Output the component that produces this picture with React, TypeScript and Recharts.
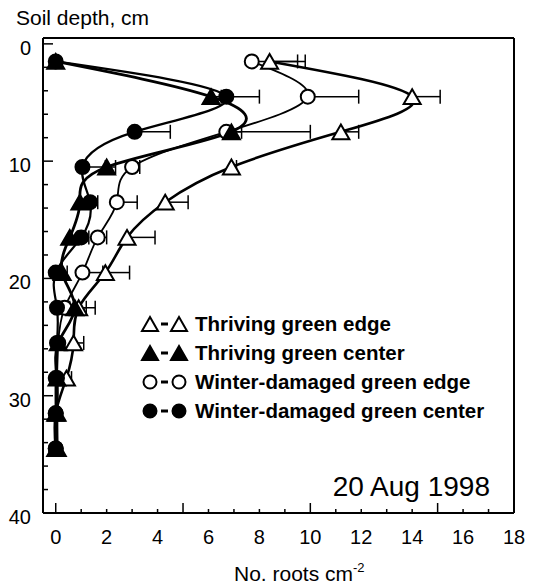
import { ComposedChart, Line, XAxis, YAxis, ErrorBar } from "recharts";

// soil depth (cm) of each sampling layer
const depths = [1.5, 4.5, 7.5, 10.5, 13.5, 16.5, 19.5, 22.5, 25.5, 28.5, 31.5, 34.5];

// no. roots per cm2
const thrivingEdge = [8.4, 14.0, 11.2, 6.9, 4.3, 2.8, 1.95, 0.9, 0.7, 0.42, 0, 0];
const thrivingEdgeErr = [1.4, 1.1, 0.7, 0.2, 0.9, 1.1, 0.95, 0.3, 0.4, 0.2, 0, 0];
const thrivingCenter = [0, 6.1, 6.9, 2.0, 0.95, 0.55, 0.25, 0.75, 0.1, 0.05, 0.05, 0.06];
const thrivingCenterErr = [0, 0.4, 0.4, 0.35, 0.3, 0.3, 0.2, 0.8, 0.1, 0.1, 0.1, 0];
const damagedEdge = [7.7, 9.9, 6.7, 3.0, 2.4, 1.65, 1.05, 0.35, 0.1, 0.05, 0, 0];
const damagedEdgeErr = [1.8, 2.0, 3.3, 0.3, 0.8, 0.35, 0.8, 0.2, 0.1, 0.05, 0, 0];
const damagedCenter = [0, 6.7, 3.1, 1.05, 1.35, 1.0, 0, 0.05, 0.05, 0, 0, 0];
const damagedCenterErr = [0, 1.3, 1.4, 0.9, 0.3, 0.3, 0.1, 0.1, 0, 0, 0, 0];

const xTicks = [0, 1, 2, 3, 4, 5, 6, 7, 8, 9, 10, 11, 12, 13, 14, 15, 16, 17, 18];
const yTicks = [0, 2, 4, 6, 8, 10, 12, 14, 16, 18, 20, 22, 24, 26, 28, 30, 32, 34, 36, 38, 40];

const legendItems = [
  { label: "Thriving green edge", shape: "tri", filled: false },
  { label: "Thriving green center", shape: "tri", filled: true },
  { label: "Winter-damaged green edge", shape: "circle", filled: false },
  { label: "Winter-damaged green center", shape: "circle", filled: true },
];

const data = depths.map((depth, i) => ({
  depth,
  te: thrivingEdge[i],
  teErr: [0, thrivingEdgeErr[i]],
  tc: thrivingCenter[i],
  tcErr: [0, thrivingCenterErr[i]],
  de: damagedEdge[i],
  deErr: [0, damagedEdgeErr[i]],
  dc: damagedCenter[i],
  dcErr: [0, damagedCenterErr[i]],
}));

const FONT = '"Liberation Sans", Arial, sans-serif';

function triPath(cx: number, cy: number, w: number) {
  const h = w * 0.87;
  return `M${cx},${cy - h / 2}L${cx + w / 2},${cy + h / 2}L${cx - w / 2},${cy + h / 2}Z`;
}

function Marker({ cx, cy, shape, filled, size }: any) {
  const fill = filled ? "#000" : "#fff";
  if (shape === "tri") {
    return <path d={triPath(cx, cy, size)} fill={fill} stroke="#000" strokeWidth={2} />;
  }
  return <circle cx={cx} cy={cy} r={size / 2 - 1} fill={fill} stroke="#000" strokeWidth={2} />;
}

const makeDot = (shape: string, filled: boolean) => (p: any) => (
  <Marker key={`${shape}-${filled}-${p.index}`} cx={p.cx} cy={p.cy} shape={shape} filled={filled} size={shape === "tri" ? 17 : 16} />
);

const XTick = ({ x, y, payload }: any) => {
  const v = payload.value;
  const len = v % 5 === 0 ? 10 : 4;
  return (
    <g>
      {v < 18 && <line x1={x} x2={x} y1={y} y2={y - len} stroke="#000" strokeWidth={1.5} />}
      {v % 2 === 0 && (
        <text x={x} y={y + 31} textAnchor="middle" fontSize={20} fontFamily={FONT} fill="#000">
          {v}
        </text>
      )}
    </g>
  );
};

const YTick = ({ x, y, payload }: any) => {
  const v = payload.value;
  const len = v % 10 === 0 ? 10 : 5;
  return (
    <g>
      {v < 40 && <line x1={x} x2={x + len} y1={y} y2={y} stroke="#000" strokeWidth={1.5} />}
      {v % 10 === 0 && (
        <text x={x - 12} y={y + 11} textAnchor="end" fontSize={20} fontFamily={FONT} fill="#000">
          {v}
        </text>
      )}
    </g>
  );
};

const axisLine = { stroke: "#000", strokeWidth: 2 };

export default function App() {
  return (
    <div style={{ position: "relative", width: 534, height: 586, background: "#fff" }}>
      <style>{`body{margin:0}`}</style>
      <ComposedChart
        width={534}
        height={586}
        data={data}
        layout="vertical"
        margin={{ top: 37, right: 19, bottom: 72, left: 42 }}
      >
        <XAxis
          type="number"
          domain={[-0.5, 18]}
          ticks={xTicks}
          interval={0}
          tick={<XTick />}
          tickLine={false}
          tickSize={0}
          tickMargin={0}
          height={1}
          axisLine={axisLine}
          allowDataOverflow
        />
        <XAxis
          xAxisId="top"
          orientation="top"
          type="number"
          domain={[-0.5, 18]}
          tick={false}
          tickLine={false}
          height={1}
          axisLine={axisLine}
          allowDataOverflow
        />
        <YAxis
          type="number"
          dataKey="depth"
          domain={[-0.5, 40]}
          ticks={yTicks}
          interval={0}
          tick={<YTick />}
          tickLine={false}
          tickSize={0}
          tickMargin={0}
          width={1}
          axisLine={axisLine}
          allowDataOverflow
        />
        <YAxis
          yAxisId="right"
          orientation="right"
          type="number"
          dataKey="depth"
          domain={[-0.5, 40]}
          tick={false}
          tickLine={false}
          width={1}
          axisLine={axisLine}
          allowDataOverflow
        />
        <Line
          dataKey="te"
          type="natural"
          stroke="#000"
          strokeWidth={2.6}
          dot={makeDot("tri", false)}
          activeDot={false}
          isAnimationActive={false}
        >
          <ErrorBar dataKey="teErr" direction="x" width={7} stroke="#000" strokeWidth={1.5} isAnimationActive={false} />
        </Line>
        <Line
          dataKey="de"
          type="natural"
          stroke="#000"
          strokeWidth={1.8}
          dot={makeDot("circle", false)}
          activeDot={false}
          isAnimationActive={false}
        >
          <ErrorBar dataKey="deErr" direction="x" width={7} stroke="#000" strokeWidth={1.5} isAnimationActive={false} />
        </Line>
        <Line
          dataKey="tc"
          type="natural"
          stroke="#000"
          strokeWidth={2.8}
          dot={makeDot("tri", true)}
          activeDot={false}
          isAnimationActive={false}
        >
          <ErrorBar dataKey="tcErr" direction="x" width={7} stroke="#000" strokeWidth={1.5} isAnimationActive={false} />
        </Line>
        <Line
          dataKey="dc"
          type="natural"
          stroke="#000"
          strokeWidth={2.2}
          dot={makeDot("circle", true)}
          activeDot={false}
          isAnimationActive={false}
        >
          <ErrorBar dataKey="dcErr" direction="x" width={7} stroke="#000" strokeWidth={1.5} isAnimationActive={false} />
        </Line>
      </ComposedChart>

      {/* titles, date and legend */}
      <svg
        width={534}
        height={586}
        style={{ position: "absolute", left: 0, top: 0, pointerEvents: "none" }}
        fontFamily={FONT}
      >
        <text x={16} y={25} fontSize={21} fill="#000">
          Soil depth, cm
        </text>
        <text x={234} y={581} fontSize={21} fill="#000">
          No. roots cm<tspan dy={-9} fontSize={13}>-2</tspan>
        </text>
        <text x={490} y={496} textAnchor="end" fontSize={28} fill="#000">
          20 Aug 1998
        </text>
        {legendItems.map((item, i) => {
          const cy = 324 + i * 29;
          return (
            <g key={item.label}>
              <Marker cx={150} cy={cy} shape={item.shape} filled={item.filled} size={item.shape === "tri" ? 16 : 15} />
              <line x1={161} x2={168} y1={cy} y2={cy} stroke="#000" strokeWidth={3} />
              <Marker cx={179} cy={cy} shape={item.shape} filled={item.filled} size={item.shape === "tri" ? 16 : 15} />
              <text x={195} y={cy + 7} fontSize={20.5} fontWeight="bold" fill="#000">
                {item.label}
              </text>
            </g>
          );
        })}
      </svg>
    </div>
  );
}
